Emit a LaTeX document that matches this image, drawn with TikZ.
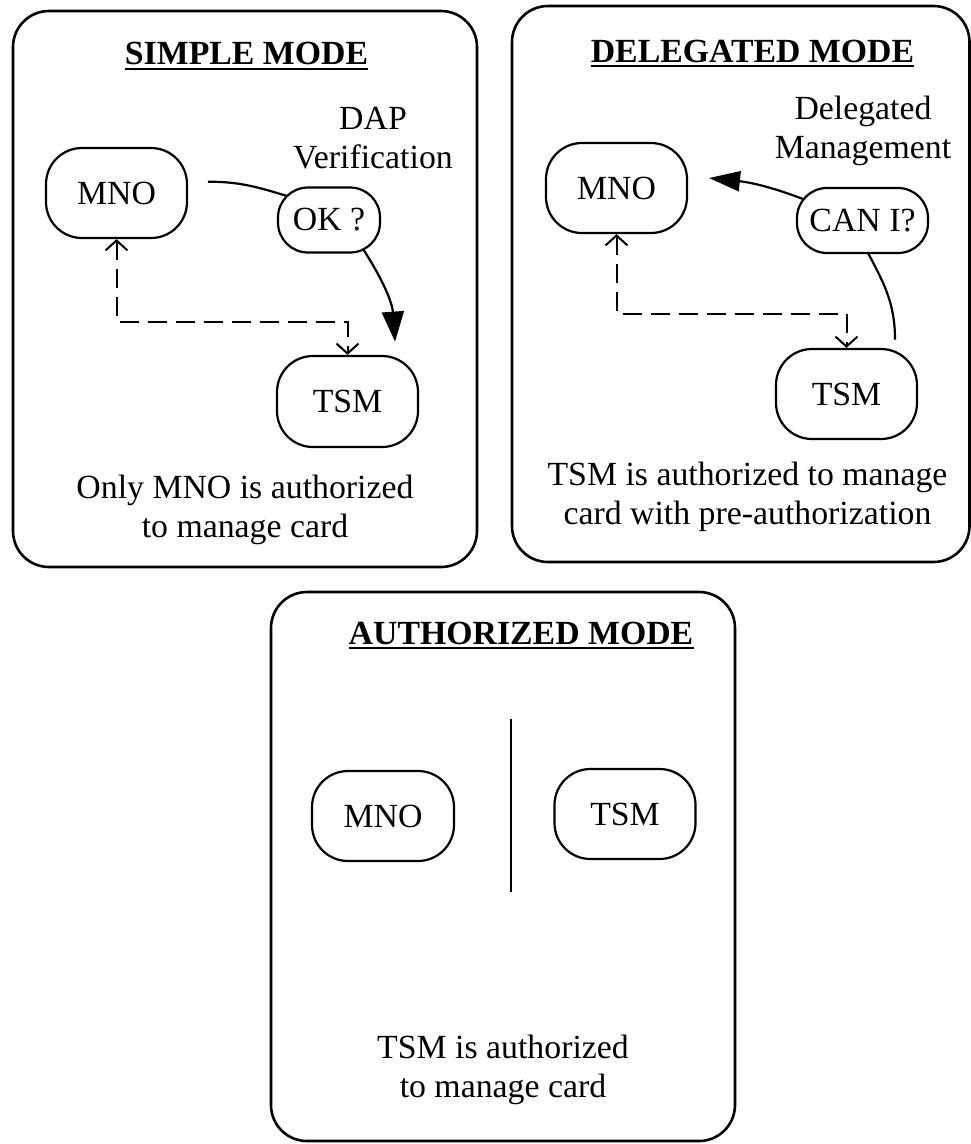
\documentclass[tikz,border=0pt]{standalone}
\usepackage{fontspec}
\setmainfont{Liberation Serif}
\usetikzlibrary{arrows.meta,calc}

\newcommand\bodyfont{\fontsize{33.8pt}{38.8pt}\selectfont}

\tikzset{
  panel/.style={draw, line width=2.6pt, rounded corners=36pt},
  party/.style={draw, line width=2.2pt, rounded corners=36pt,
    minimum width=141pt, minimum height=90pt, inner sep=0pt, font=\bodyfont},
  query/.style={draw, line width=2.2pt, rounded corners=30pt,
    minimum height=65pt, inner sep=0pt, font=\bodyfont},
  % base anchor of a two-line caption sits on its last line
  caption/.style={align=center, inner sep=0pt, anchor=base, font=\bodyfont},
  heading/.style={inner sep=0pt, anchor=base, font=\bodyfont\bfseries},
  underline/.style={line width=2.2pt},
  flow/.style={line width=2.2pt},
  bigtip/.style={-{Triangle[length=30pt,width=22pt]}},
  control/.style={line width=2pt, dash pattern=on 19pt off 9pt,
    {Straight Barb[length=10pt,width=22pt]}-{Straight Barb[length=10pt,width=22pt]}},
}

\begin{document}
\begin{tikzpicture}[x=1pt,y=1pt]
\useasboundingbox (0,0) rectangle (971,-1144);

% ---------- simple mode ----------
\draw[panel] (13,-11) rectangle (477,-567);
\node[heading] (st) at (246.5,-64.6) {SIMPLE MODE};
\draw[underline] ([yshift=-4pt]st.base west) -- ([yshift=-4pt]st.base east);
\node[party] (mno1) at (116.5,-193) {MNO};
\node[caption] (dap) at (373,-168) {DAP\\Verification};
\node[query, minimum width=102pt] (ok1) at (329,-220) {OK ?};
\node[party, minimum height=91pt] (tsm1) at (347.5,-401.5) {TSM};
\node[caption] (sc) at (245,-537.5) {Only MNO is authorized\\to manage card};

\coordinate (s1) at (208,-181.7);
\coordinate (t1) at (395,-341.6);
\draw[flow] (s1) to[out=0,in=163] ($(ok1)+(-42,24)$);
\draw[flow,bigtip] ($(ok1)+(34,-29)$) to[out=-57,in=94] (t1);
\draw[control] (mno1.south) -- ++(0,-83) -| (tsm1.north);

% ---------- delegated mode ----------
\draw[panel] (512,-6) rectangle (969.5,-562);
\node[heading] (dt) at (752.5,-62) {DELEGATED MODE};
\draw[underline] ([yshift=-4pt]dt.base west) -- ([yshift=-4pt]dt.base east);
\node[caption] (dm) at (863,-158) {Delegated\\Management};
\node[party] (mno2) at (616.5,-188) {MNO};
\node[query, minimum width=131pt] (can2) at (862.5,-220.5) {CAN I?};
\node[party] (tsm2) at (846.5,-394) {TSM};
\node[caption] (dc) at (747.5,-524) {TSM is authorized to manage\\card with pre-authorization};

\coordinate (t2) at (709,-178);
\coordinate (e2) at (895,-339.5);
\draw[flow,-{Triangle[length=31pt,width=20pt]}] ($(can2)+(-59.5,21.5)$) to[out=159,in=-6] (t2);
\draw[flow] ($(can2)+(5.5,-32.5)$) to[out=-62,in=90] (e2);
\draw[control] (mno2.south) -- ++(0,-80) -| (tsm2.north);

% ---------- authorized mode ----------
\draw[panel] (271,-592) rectangle (735,-1141);
\node[heading] (at) at (521,-644) {AUTHORIZED MODE};
\draw[underline] ([yshift=-4pt]at.base west) -- ([yshift=-4pt]at.base east);
\node[party, minimum width=142pt] (mno3) at (383,-816) {MNO};
\node[party] (tsm3) at (625,-814) {TSM};
\draw[flow] (511,-719) -- (511,-892);
\node[caption] (ac) at (503,-1097) {TSM is authorized\\to manage card};
\end{tikzpicture}
\end{document}
